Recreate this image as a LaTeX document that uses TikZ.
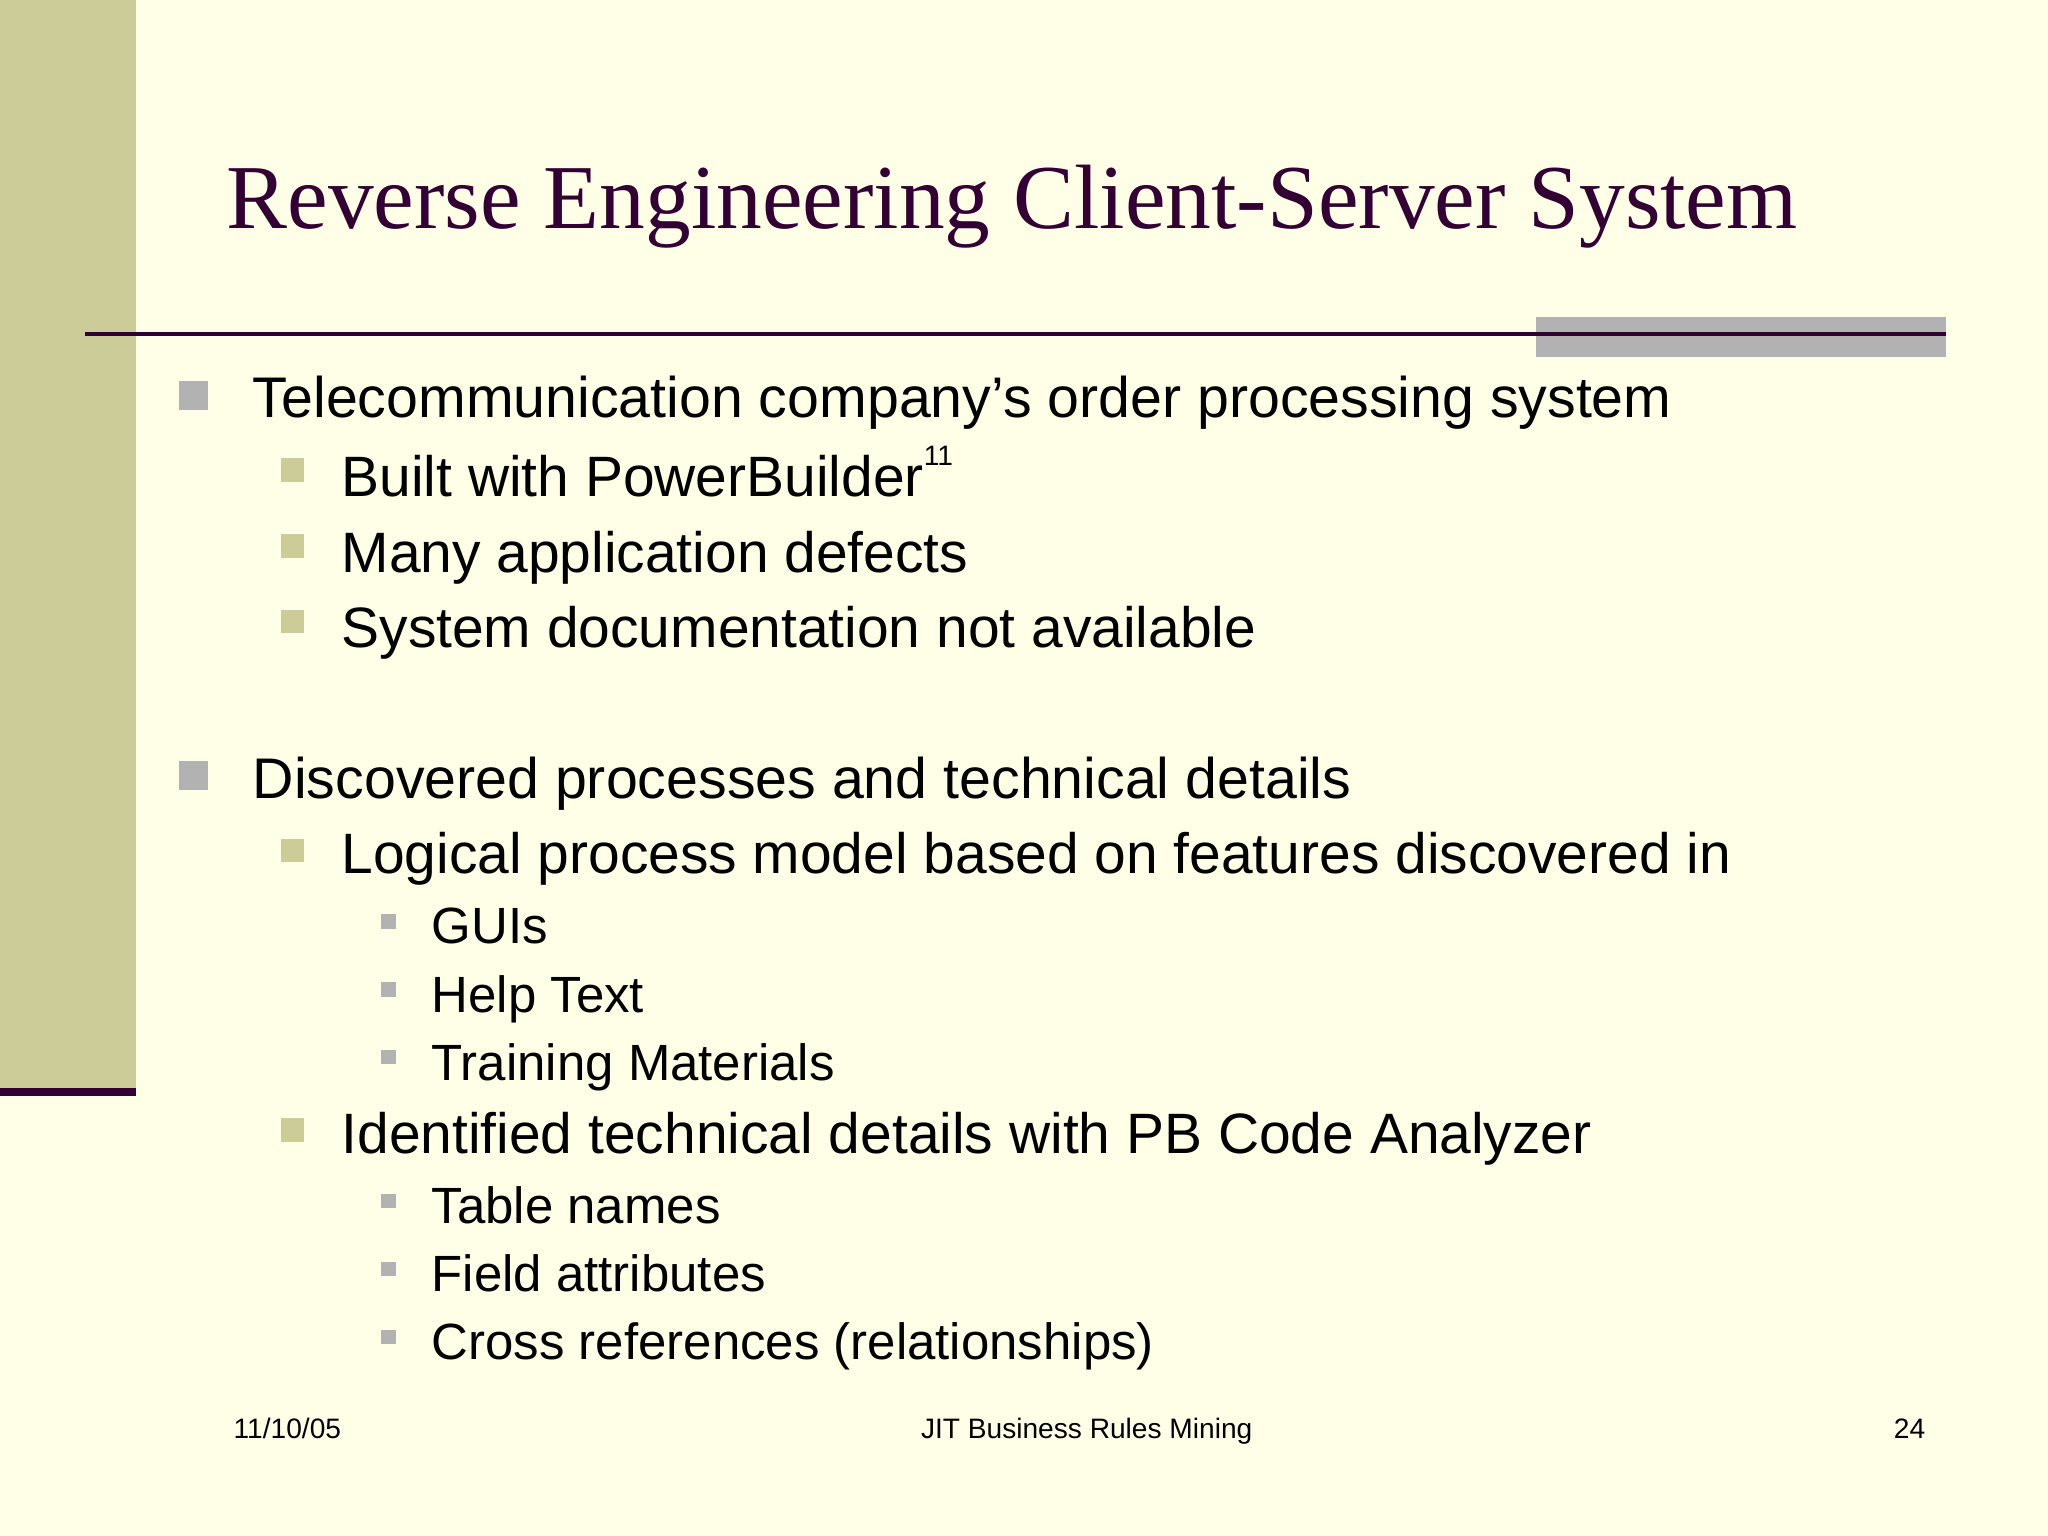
\documentclass[tikz,border=0pt]{standalone}
\usepackage{fontspec}
\setmainfont{Liberation Sans}
\newfontfamily\titlefont{Liberation Serif}
\definecolor{bg}{HTML}{FFFFE7}
\definecolor{olive}{HTML}{CCCC99}
\definecolor{plum}{HTML}{330033}
\definecolor{gbar}{HTML}{B2B2B2}
\definecolor{bgrey}{HTML}{B2B2B2}
\begin{document}
\begin{tikzpicture}[x=0.013061cm,y=-0.013061cm,
  lone/.style={anchor=base west,inner sep=0pt,font=\fontsize{16.3}{18}\selectfont},
  ltwo/.style={anchor=base west,inner sep=0pt,font=\fontsize{16.2}{18}\selectfont},
  lthree/.style={anchor=base west,inner sep=0pt,font=\fontsize{14.5}{17}\selectfont},
  foot/.style={anchor=base,inner sep=0pt,font=\fontsize{8}{9}\selectfont},
  bone/.style={fill=bgrey},
  btwo/.style={fill=olive},
  bthree/.style={fill=bgrey}]
\useasboundingbox (0,0) rectangle (1568,1176);
\fill[bg] (0,0) rectangle (1568,1176);
\fill[olive] (0,0) rectangle (104,833);
\fill[plum] (0,833) rectangle (104,839);
\node[anchor=base west,inner sep=0pt,text=plum,font=\titlefont\fontsize{26}{30}\selectfont] (title) at (173,175) {Reverse Engineering Client-Server System};
\fill[gbar] (1176,243) rectangle (1490,273);
\draw[plum,line width=1.1pt] (65,256) -- (1490,256);
\fill[bone] (137,292) rectangle (159,314);
\node[lone] (a) at (193,320) {Telecommunication company’s order processing system};
\fill[btwo] (215,351) rectangle (233,369);
\node[ltwo] (a1) at (261,380) {Built with PowerBuilder\raisebox{0.55em}{\fontsize{8}{9}\selectfont 11}};
\fill[btwo] (215,409) rectangle (233,427);
\node[ltwo] (a2) at (261,438) {Many application defects};
\fill[btwo] (215,467) rectangle (233,485);
\node[ltwo] (a3) at (261,496) {System documentation not available};
\fill[bone] (137,583) rectangle (159,605);
\node[lone] (b) at (193,611) {Discovered processes and technical details};
\fill[btwo] (215,642) rectangle (233,660);
\node[ltwo] (b1) at (261,669) {Logical process model based on features discovered in};
\fill[bthree] (292,700) rectangle (303,711);
\node[lthree] (b11) at (330,722) {GUIs};
\fill[bthree] (292,752) rectangle (303,763);
\node[lthree] (b12) at (330,775) {Help Text};
\fill[bthree] (292,804) rectangle (303,815);
\node[lthree] (b13) at (330,827) {Training Materials};
\fill[btwo] (215,856) rectangle (233,874);
\node[ltwo] (b2) at (261,883) {Identified technical details with PB Code Analyzer};
\fill[bthree] (292,914) rectangle (303,925);
\node[lthree] (b21) at (330,937) {Table names};
\fill[bthree] (292,966) rectangle (303,977);
\node[lthree] (b22) at (330,989) {Field attributes};
\fill[bthree] (292,1018) rectangle (303,1029);
\node[lthree] (b23) at (330,1041) {Cross references (relationships)};
\node[foot] (f1) at (220,1101) {11/10/05};
\node[foot] (f2) at (832,1101) {JIT Business Rules Mining};
\node[foot] (f3) at (1462,1101) {24};
\end{tikzpicture}
\end{document}
